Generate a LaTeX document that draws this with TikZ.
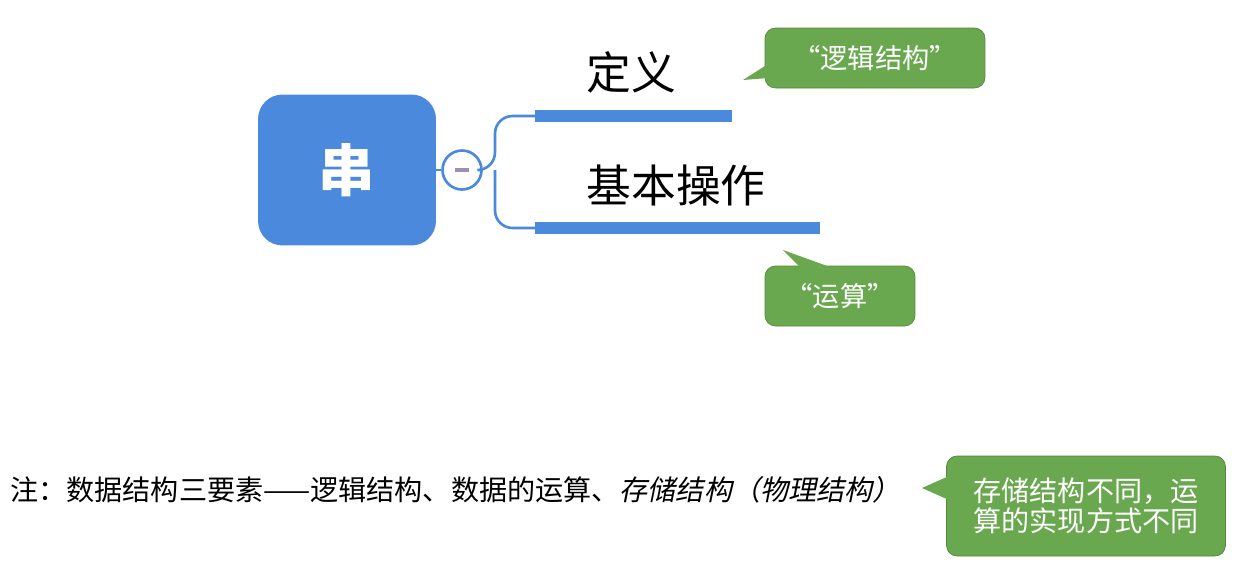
\documentclass[tikz,border=0pt]{standalone}
\usepackage{fontspec}
\setmainfont{Noto Sans CJK SC}
\newfontfamily\notefont{Noto Sans CJK SC}
\newfontfamily\slantcjk[FakeSlant=0.2]{Noto Sans CJK SC}
\definecolor{rootblue}{HTML}{4A89DC}
\definecolor{notegreen}{HTML}{6AA84F}
\definecolor{minusgray}{HTML}{9C8FB5}
\tikzset{
  callout/.style={fill=notegreen, draw=notegreen!80!black, rounded corners=6pt,
    text=white, inner sep=0pt, minimum height=1.2cm},
  branch/.style={rootblue, line width=6.8pt},
  topic/.style={font=\fontsize{25.5}{30}\selectfont, inner sep=0pt}
}
\begin{document}
\begin{tikzpicture}[x=0.02cm, y=-0.02cm]

\useasboundingbox (0,0) rectangle (1249,566);

% root
\node [fill=rootblue, rounded corners=14pt, minimum width=3.56cm, minimum height=3.02cm,
  text=white, font=\fontsize{32}{36}\selectfont\bfseries] (root) at (347,170) {串};
\node [circle, draw=rootblue, line width=1.5pt, fill=white, minimum size=0.78cm] (minus) at (462,170) {};
\draw [minusgray, line width=2pt] (455,170)--(469,170);

\coordinate (J) at (495,170);
\coordinate (T1) at (535,116);
\coordinate (T2) at (535,228);
\coordinate (E1) at (732,116);
\coordinate (E2) at (820,228);

\draw [rootblue, line width=1.5pt] (root.east)--(minus.west);
\draw [rootblue, line width=1.5pt, rounded corners=10pt] (minus.east)--(J)|-(T1);
\draw [rootblue, line width=1.5pt, rounded corners=10pt] (J)|-(T2);
\draw [branch] (T1)--(E1);
\draw [branch] (T2)--(E2);

\node [topic] (def) at (631,72) {定义};
\node [topic] (ops) at (676,185) {基本操作};

% callouts
\node [callout, minimum width=4.4cm, font=\fontsize{15.5}{18}\selectfont] (c1) at (875,58) {“逻辑结构”};
\fill [notegreen] (768,64)--(743,80)--(768,78)--cycle;
\node [callout, minimum width=3cm, font=\fontsize{15.5}{18}\selectfont] (c2) at (840,296) {“运算”};
\fill [notegreen] (800,267)--(783,250)--(830,267)--cycle;

\node [anchor=west, inner sep=0pt, font=\fontsize{16}{18}\selectfont] (note) at (10,490)
  {注：数据结构三要素——逻辑结构、数据的运算、{\slantcjk 存储结构（物理结构）}};
\node [callout, minimum width=5.58cm, minimum height=2cm, align=left,
  font=\fontsize{16}{17}\selectfont] (c3) at (1086,506) {存储结构不同，运\\算的实现方式不同};
\fill [notegreen] (949,476)--(922,488)--(949,500)--cycle;

\end{tikzpicture}
\end{document}
